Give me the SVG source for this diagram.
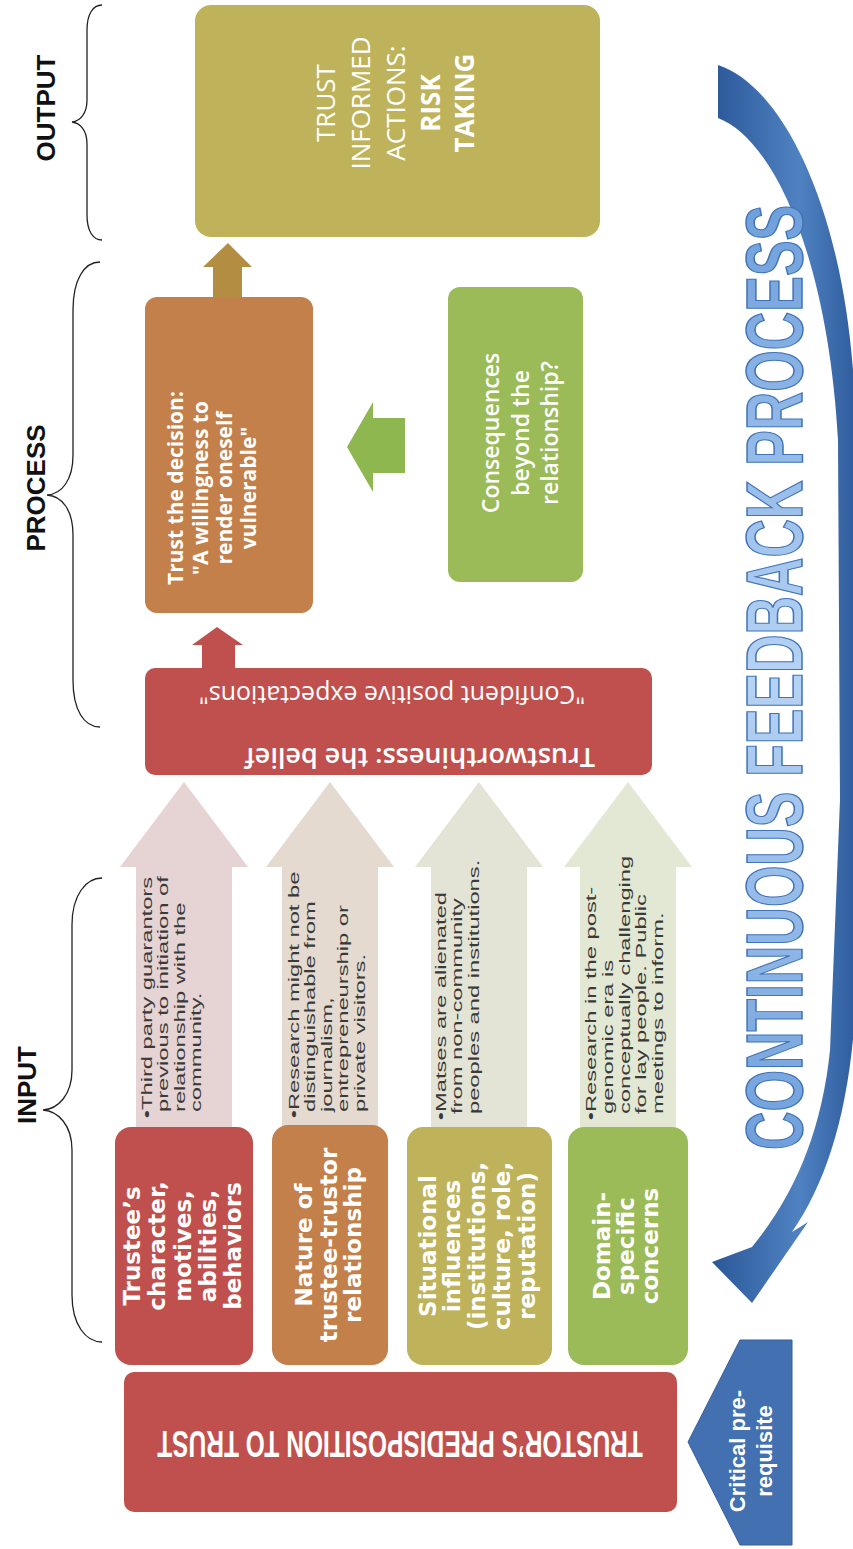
<svg xmlns="http://www.w3.org/2000/svg" width="853" height="1549" viewBox="0 0 853 1549">
<defs>
<style>
.lbl{font-family:"Liberation Sans",Arial,sans-serif;font-weight:bold;font-size:26px;fill:#111}
.brace{fill:none;stroke:#222;stroke-width:1.3}
.boxtxt{font-family:"DejaVu Sans",Verdana,sans-serif;font-weight:bold;font-size:23px;fill:#fff}
.note{font-family:"Liberation Sans",Arial,sans-serif;font-size:15px;fill:#3a3a3a}
.os{font-family:"Open Sans","Liberation Sans",sans-serif;fill:#fff}
.red{fill:#C0504D}.orange{fill:#C4804A}.olive{fill:#BEB35B}.green{fill:#9BBB59}
</style>
<linearGradient id="fbGrad" x1="0" y1="0" x2="1" y2="0">
<stop offset="0" stop-color="#2B5797"/><stop offset="0.6" stop-color="#4F82C2"/><stop offset="1" stop-color="#2E5B9B"/>
</linearGradient>
<linearGradient id="wordGrad" x1="0" y1="0" x2="1" y2="0">
<stop offset="0" stop-color="#6F9FDB"/><stop offset="0.5" stop-color="#B7D3F4"/><stop offset="1" stop-color="#6F9FDB"/>
</linearGradient>
</defs>
<rect width="853" height="1549" fill="#fff"/>

<g id="stage-labels">
<g id="label-output"><path class="brace" d="M102,5 C93,5 87,14 87,30 L87,100 C87,114 80,121 72,122 C80,123 87,130 87,144 L87,215 C87,231 93,240 102,240"/><text class="lbl" text-anchor="middle" transform="translate(55,108) rotate(-90)">OUTPUT</text></g>
<g id="label-process"><path class="brace" d="M100,262 C84,262 73,280 73,310 L73,455 C73,480 62,494 47,495 C62,496 73,510 73,535 L73,680 C73,710 84,727 100,727"/><text class="lbl" text-anchor="middle" transform="translate(45,488) rotate(-90)">PROCESS</text></g>
<g id="label-input"><path class="brace" d="M102,878 C86,878 72,895 72,925 L72,1070 C72,1095 58,1109 43,1110 C58,1111 72,1125 72,1150 L72,1295 C72,1325 86,1342 102,1342"/><text class="lbl" text-anchor="middle" transform="translate(36,1085) rotate(-90)">INPUT</text></g>
</g>

<g id="connectors">
<polygon id="arrow-decision-output" fill="#B38E42" points="228,243 252,267 242,267 242,297 213,297 213,267 203,267"/>
<polygon id="arrow-belief-decision" fill="#C0504D" points="217,627 243,645 235,645 235,668 202,668 202,645 192,645"/>
<polygon id="arrow-consequences-decision" fill="#8EB84F" points="347,447 373,402 373,418 405,418 405,473 373,473 373,492"/>
<path id="feedback-arrow" fill="url(#fbGrad)" d="M718,65 C780,85 840,200 853,370 L857,950 C857,1080 835,1170 792,1232 L808,1222 L752,1303 L712,1262 L752,1247 C795,1195 822,1130 830,1050 L840,800 L838,440 C828,260 775,140 718,118 Z"/>
</g>

<g id="node-output">
<rect class="olive" x="195" y="5" width="405" height="232" rx="16"/>
<text class="os" font-size="26" text-anchor="middle" transform="translate(335,103) rotate(-90)"><tspan x="0" y="0">TRUST</tspan><tspan x="0" y="35">INFORMED</tspan><tspan x="0" y="70">ACTIONS:</tspan><tspan x="0" y="105" font-weight="bold">RISK</tspan><tspan x="0" y="139" font-weight="bold">TAKING</tspan></text>
</g>

<g id="node-decision">
<rect class="orange" x="145" y="297" width="168" height="316" rx="12"/>
<text class="os" font-size="21" font-weight="bold" text-anchor="middle" transform="translate(183,488) rotate(-90)"><tspan x="0" y="0">Trust the decision:</tspan><tspan x="0" y="25">"A willingness to</tspan><tspan x="0" y="49">render oneself</tspan><tspan x="0" y="73">vulnerable"</tspan></text>
</g>

<g id="node-consequences">
<rect class="green" x="448" y="287" width="135" height="295" rx="12"/>
<text class="os" font-size="23" font-weight="600" text-anchor="middle" transform="translate(499,433) rotate(-90)"><tspan x="0" y="0">Consequences</tspan><tspan x="0" y="30">beyond the</tspan><tspan x="0" y="59">relationship?</tspan></text>
</g>

<g id="node-trustworthiness">
<rect class="red" x="145" y="668" width="507" height="107" rx="10"/>
<text class="os" font-size="27" font-weight="600" text-anchor="middle" transform="translate(420,748) rotate(180)">Trustworthiness: the belief</text>
<text class="os" font-size="25" text-anchor="middle" transform="translate(392,686) rotate(180)">"Confident positive expectations"</text>
</g>

<g id="note-1">
<polygon fill="#E6D3D3" points="184,782 248,867 232,867 232,1127 136,1127 136,867 120,867"/>
<text class="note" transform="translate(152,1112) rotate(-90) scale(1.58,1)"><tspan x="-4" y="0">•Third party  guarantors</tspan><tspan x="0" y="16.5">previous to initiation of</tspan><tspan x="0" y="33">relationship  with the</tspan><tspan x="0" y="49.5">community.</tspan></text>
</g>
<g id="note-2">
<polygon fill="#E4DAD0" points="330,782 394,867 378,867 378,1127 282,1127 282,867 266,867"/>
<text class="note" transform="translate(299,1112) rotate(-90) scale(1.58,1)"><tspan x="-4" y="0">•Research might not be</tspan><tspan x="0" y="16.5">distinguishable  from</tspan><tspan x="0" y="33">journalism,</tspan><tspan x="0" y="49.5">entrepreneurship or</tspan><tspan x="0" y="66">private visitors.</tspan></text>
</g>
<g id="note-3">
<polygon fill="#E4E4D6" points="479,782 543,867 527,867 527,1127 431,1127 431,867 415,867"/>
<text class="note" transform="translate(446,1114) rotate(-90) scale(1.58,1)"><tspan x="-4" y="0">•Matses are  alienated</tspan><tspan x="0" y="16.5">from non-community</tspan><tspan x="0" y="33">peoples and institutions.</tspan></text>
</g>
<g id="note-4">
<polygon fill="#E2E8D4" points="628,782 692,867 676,867 676,1127 580,1127 580,867 564,867"/>
<text class="note" transform="translate(596,1114) rotate(-90) scale(1.58,1)"><tspan x="-4" y="0">•Research in the post-</tspan><tspan x="0" y="16.8">genomic era is</tspan><tspan x="0" y="33.6">conceptually challenging</tspan><tspan x="0" y="50.4">for lay people.  Public</tspan><tspan x="0" y="67.2">meetings to inform.</tspan></text>
</g>

<g id="node-trustee">
<rect class="red" x="115" y="1127" width="138" height="238" rx="16"/>
<text class="boxtxt" text-anchor="middle" transform="translate(140,1246) rotate(-90)"><tspan x="0" y="0">Trustee’s</tspan><tspan x="0" y="25">character,</tspan><tspan x="0" y="50.5">motives,</tspan><tspan x="0" y="76">abilities,</tspan><tspan x="0" y="101">behaviors</tspan></text>
</g>
<g id="node-nature">
<rect class="orange" x="272" y="1125" width="116" height="240" rx="16"/>
<text class="boxtxt" text-anchor="middle" transform="translate(312,1245) rotate(-90)"><tspan x="0" y="0">Nature of</tspan><tspan x="0" y="25">trustee-trustor</tspan><tspan x="0" y="49">relationship</tspan></text>
</g>
<g id="node-situational">
<rect class="olive" x="407" y="1127" width="145" height="238" rx="16"/>
<text class="boxtxt" text-anchor="middle" transform="translate(436,1246) rotate(-90)"><tspan x="0" y="0">Situational</tspan><tspan x="0" y="24">influences</tspan><tspan x="0" y="49">(institutions,</tspan><tspan x="0" y="74">culture, role,</tspan><tspan x="0" y="99">reputation)</tspan></text>
</g>
<g id="node-domain">
<rect class="green" x="568" y="1127" width="120" height="238" rx="16"/>
<text class="boxtxt" text-anchor="middle" transform="translate(610,1246) rotate(-90)"><tspan x="0" y="0">Domain-</tspan><tspan x="0" y="24">specific</tspan><tspan x="0" y="48">concerns</tspan></text>
</g>

<g id="node-predisposition">
<rect class="red" x="124" y="1372" width="553" height="140" rx="10"/>
<text font-family="'Liberation Sans',Arial,sans-serif" font-weight="bold" font-size="36" fill="#fff" text-anchor="middle" textLength="686" lengthAdjust="spacingAndGlyphs" transform="translate(400,1431) rotate(180) scale(0.708,1)">TRUSTOR’S PREDISPOSITION TO TRUST</text>
</g>

<g id="node-critical">
<polygon fill="#4270B0" stroke="#375F9A" stroke-width="1" points="688,1442 740,1340 792,1340 792,1545 740,1545"/>
<text font-family="'Liberation Sans',Arial,sans-serif" font-weight="bold" font-size="22" fill="#fff" text-anchor="middle" transform="translate(745,1451) rotate(-90)"><tspan x="0" y="0">Critical  pre-</tspan><tspan x="0" y="27">requisite</tspan></text>
</g>

<g id="feedback-label">
<text font-family="'Liberation Sans',Arial,sans-serif" font-weight="bold" font-size="80" fill="url(#wordGrad)" stroke="#3F74B8" stroke-width="1.5" textLength="1434" lengthAdjust="spacingAndGlyphs" transform="translate(802,1150) rotate(-90) scale(0.659,1)">CONTINUOUS FEEDBACK PROCESS</text>
</g>
</svg>
